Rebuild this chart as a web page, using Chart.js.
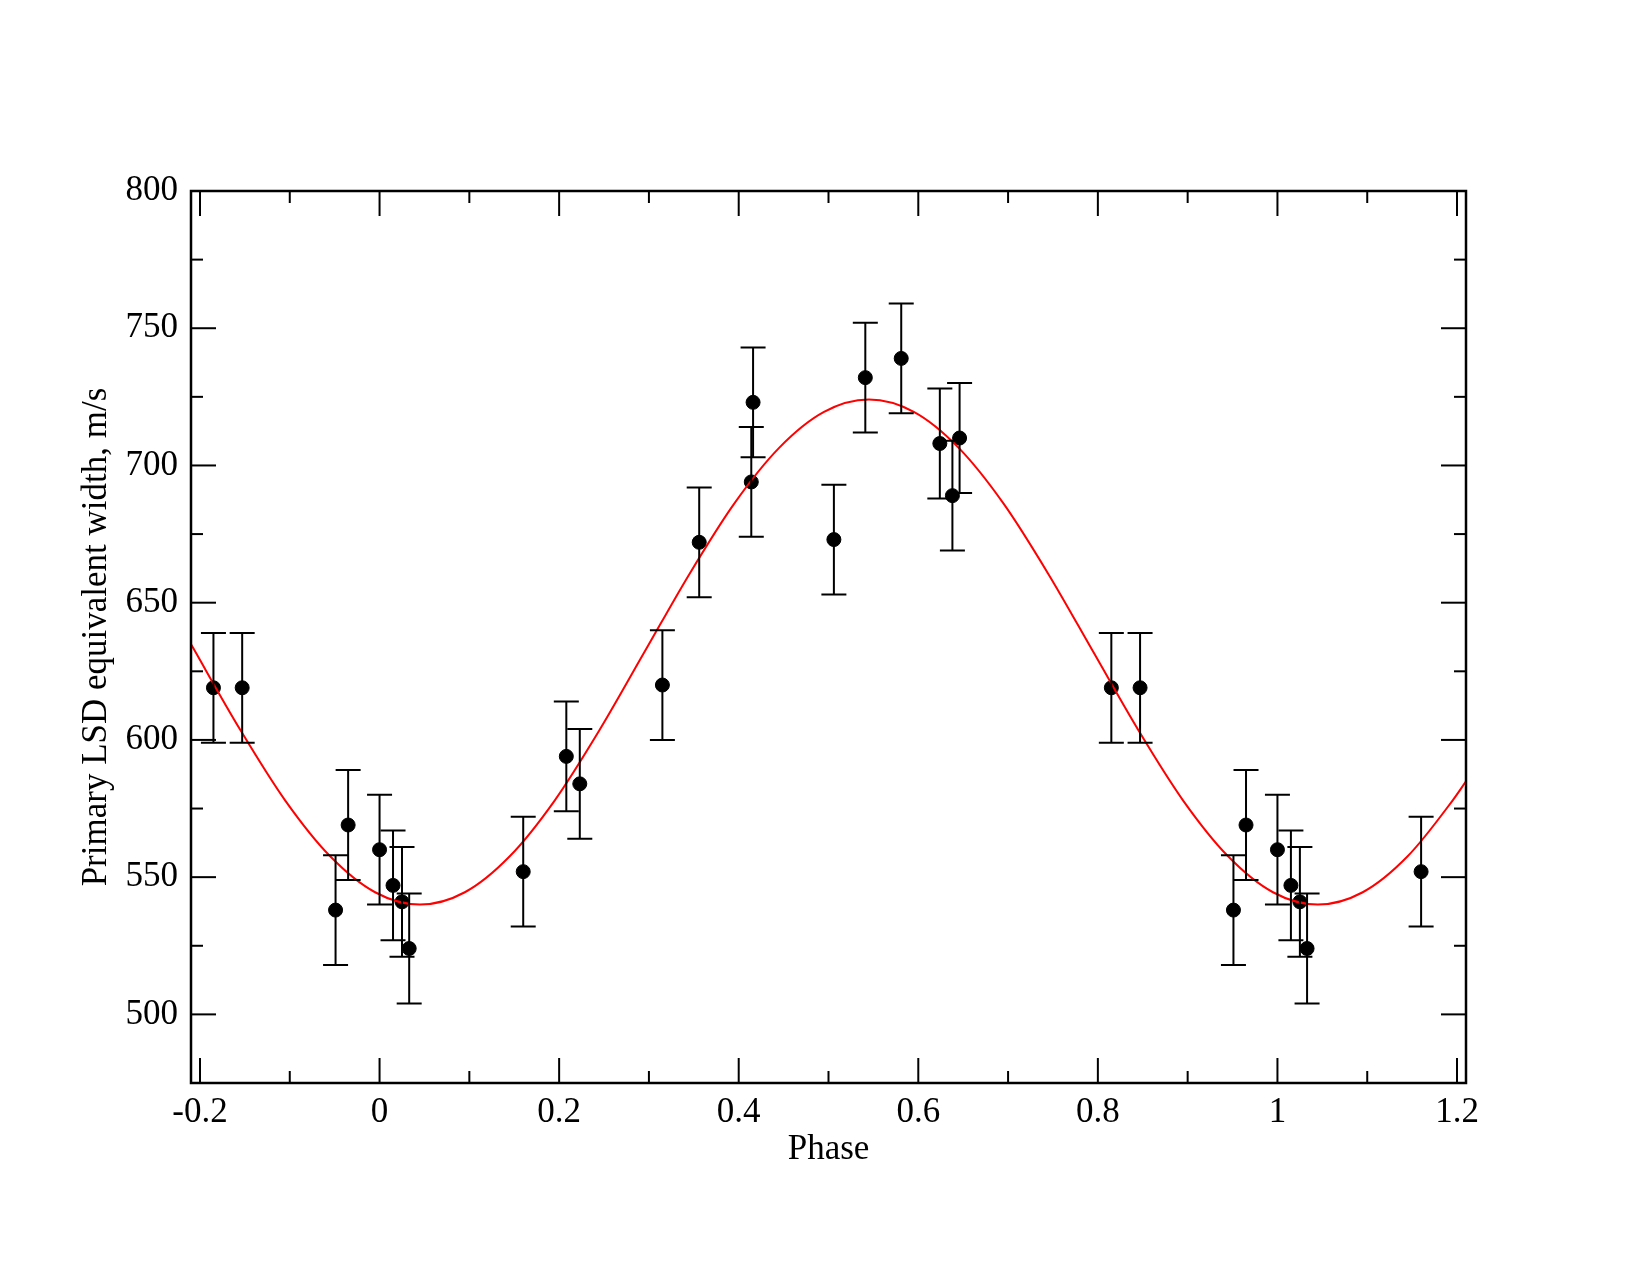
<!DOCTYPE html>
<html>
<head>
<meta charset="utf-8">
<title>Primary LSD equivalent width vs phase</title>
<script src="https://cdn.jsdelivr.net/npm/chart.js@4.4.1/dist/chart.umd.min.js"></script>
<style>
  html, body { margin: 0; padding: 0; background: #fff; }
  canvas { display: block; }
</style>
</head>
<body>
<canvas id="lsdChart" width="1650" height="1275"></canvas>
<script>
const phases = [-0.185, -0.153, -0.049, -0.035, 0.000, 0.015, 0.025, 0.033, 0.160, 0.208,
                0.223, 0.315, 0.356, 0.414, 0.416, 0.506, 0.541, 0.581, 0.624, 0.638,
                0.646, 0.815, 0.847, 0.951, 0.965, 1.000, 1.015, 1.025, 1.033, 1.160];
const widths = [619, 619, 538, 569, 560, 547, 541, 524, 552, 594,
                584, 620, 672, 694, 723, 673, 732, 739, 708, 689,
                710, 619, 619, 538, 569, 560, 547, 541, 524, 552];
const widthErrors = [20, 20, 20, 20, 20, 20, 20, 20, 20, 20,
                     20, 20, 20, 20, 20, 20, 20, 20, 20, 20,
                     20, 20, 20, 20, 20, 20, 20, 20, 20, 20];

// Curva ajustada (vermelha)
const fitPhases = [-0.21, -0.205, -0.155, -0.105, -0.055, -0.005, 0.045, 0.095, 0.145, 0.195,
                   0.245, 0.295, 0.345, 0.395, 0.445, 0.495, 0.545, 0.595, 0.645, 0.695,
                   0.745, 0.795, 0.845, 0.895, 0.945, 0.995, 1.045, 1.095, 1.145, 1.195, 1.21];
const fitWidths = [634.9, 632, 603.6, 577.9, 557.6, 544.5, 540, 544.5, 557.6, 577.9,
                   603.6, 632, 660.4, 686.1, 706.4, 719.5, 724, 719.5, 706.4, 686.1,
                   660.4, 632, 603.6, 577.9, 557.6, 544.5, 540, 544.5, 557.6, 577.9, 584.9];

// Eixos
const xTicks = [-0.2, 0, 0.2, 0.4, 0.6, 0.8, 1, 1.2];
const xTickLabels = ['-0.2', '0', '0.2', '0.4', '0.6', '0.8', '1', '1.2'];
const xMinorTicks = [-0.1, 0.1, 0.3, 0.5, 0.7, 0.9, 1.1];
const yTicks = [500, 550, 600, 650, 700, 750, 800];
const yTickLabels = ['500', '550', '600', '650', '700', '750', '800'];
const yMinorTicks = [525, 575, 625, 675, 725, 775];

const serif = "'Liberation Serif', 'Times New Roman', serif";

// Barras de erro
const errorBars = {
    id: 'errorBars',
    afterDatasetsDraw(chart) {
        const { ctx, scales: { x, y } } = chart;
        ctx.save();
        ctx.strokeStyle = '#000';
        ctx.lineWidth = 2;
        phases.forEach((p, i) => {
            const px = x.getPixelForValue(p);
            const top = y.getPixelForValue(widths[i] + widthErrors[i]);
            const bot = y.getPixelForValue(widths[i] - widthErrors[i]);
            ctx.beginPath();
            ctx.moveTo(px, top); ctx.lineTo(px, bot);
            ctx.moveTo(px - 12.5, top); ctx.lineTo(px + 12.5, top);
            ctx.moveTo(px - 12.5, bot); ctx.lineTo(px + 12.5, bot);
            ctx.stroke();
        });
        ctx.restore();
    }
};

// Moldura e marcas internas nos quatro lados
const frameTicks = {
    id: 'frameTicks',
    afterDraw(chart) {
        const { ctx, chartArea: a, scales: { x, y } } = chart;
        ctx.save();
        ctx.strokeStyle = '#000';
        ctx.lineWidth = 2;
        const seg = (x1, y1, x2, y2) => {
            ctx.beginPath(); ctx.moveTo(x1, y1); ctx.lineTo(x2, y2); ctx.stroke();
        };
        const xMarks = (vals, len) => vals.forEach(v => {
            const px = x.getPixelForValue(v);
            seg(px, a.bottom, px, a.bottom - len);
            seg(px, a.top, px, a.top + len);
        });
        const yMarks = (vals, len) => vals.forEach(v => {
            const py = y.getPixelForValue(v);
            seg(a.left, py, a.left + len, py);
            seg(a.right, py, a.right - len, py);
        });
        xMarks(xTicks, 25);
        xMarks(xMinorTicks, 12);
        yMarks(yTicks, 25);
        yMarks(yMinorTicks, 12);
        ctx.lineWidth = 2.5;
        ctx.strokeRect(a.left, a.top, a.right - a.left, a.bottom - a.top);
        ctx.restore();
    }
};

new Chart(document.getElementById('lsdChart').getContext('2d'), {
    type: 'scatter',
    data: {
        datasets: [
            {
                type: 'line',
                label: 'Fit',
                data: fitPhases.map((p, i) => ({ x: p, y: fitWidths[i] })),
                borderColor: '#ff0000',
                borderWidth: 2,
                pointRadius: 0,
                fill: false,
                cubicInterpolationMode: 'monotone'
            },
            {
                label: 'Primary LSD equivalent width',
                data: phases.map((p, i) => ({ x: p, y: widths[i] })),
                backgroundColor: '#000',
                borderColor: '#000',
                pointRadius: 7,
                pointHoverRadius: 7
            }
        ]
    },
    options: {
        responsive: false,
        animation: false,
        events: [],
        layout: { padding: { top: 191, right: 184, left: 0, bottom: 0 } },
        plugins: { legend: { display: false }, tooltip: { enabled: false } },
        scales: {
            x: {
                type: 'linear',
                min: -0.21,
                max: 1.21,
                grid: { display: false, drawTicks: false },
                border: { display: false },
                afterBuildTicks: s => { s.ticks = xTicks.map(v => ({ value: v })); },
                afterFit: s => { s.height = 192; },
                ticks: {
                    color: '#000',
                    padding: 9,
                    maxRotation: 0,
                    font: { family: serif, size: 35 },
                    callback: (v, i) => xTickLabels[i]
                },
                title: {
                    display: true,
                    text: 'Phase',
                    color: '#000',
                    font: { family: serif, size: 35 },
                    padding: { bottom: 104 }
                }
            },
            y: {
                type: 'linear',
                min: 475,
                max: 800,
                grid: { display: false, drawTicks: false },
                border: { display: false },
                afterBuildTicks: s => { s.ticks = yTicks.map(v => ({ value: v })); },
                afterFit: s => { s.width = 191; },
                ticks: {
                    color: '#000',
                    padding: 13,
                    font: { family: serif, size: 35 },
                    callback: (v, i) => yTickLabels[i]
                },
                title: {
                    display: true,
                    text: 'Primary LSD equivalent width, m/s',
                    color: '#000',
                    font: { family: serif, size: 35 },
                    padding: { top: 76 }
                }
            }
        }
    },
    plugins: [errorBars, frameTicks]
});
</script>
</body>
</html>
